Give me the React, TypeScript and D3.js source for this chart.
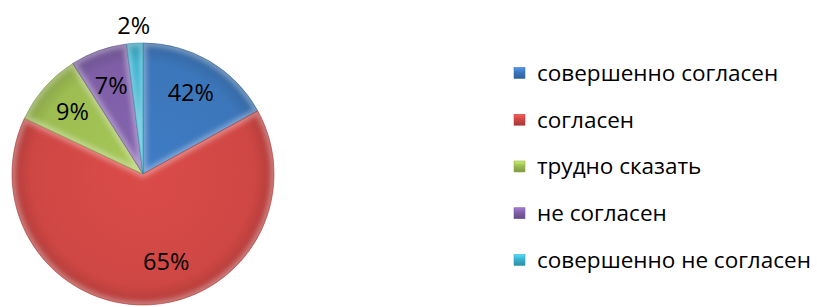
import React from "react";
import * as d3 from "d3";

const categories = ["совершенно согласен", "согласен", "трудно сказать", "не согласен", "совершенно не согласен"];
const sliceShares = [17, 65, 9, 7, 2];
const labelTexts = ["42%", "65%", "9%", "7%", "2%"];
const colors = ["#3C76BA", "#CF4744", "#9DBD52", "#7E5FA6", "#3AB0CE"];

const width = 817;
const height = 307;
const cx = 143;
const cy = 174;
const radius = 131;

const App = () => {
  const pie = d3.pie<number>().sort(null).value((d) => d);
  const arcs = pie(sliceShares);
  const arc = d3.arc<d3.PieArcDatum<number>>().innerRadius(0).outerRadius(radius);

  // label placement: inside at ~0.72R, tiny last slice goes outside
  const labelPos = (a: d3.PieArcDatum<number>, i: number) => {
    let ang = (a.startAngle + a.endAngle) / 2;
    let r = 94;
    if (i === 1) ang -= (13 * Math.PI) / 180;
    if (i === 1) r = 91;
    if (a.endAngle - a.startAngle < 0.2) r = 149;
    return [Math.sin(ang) * r, -Math.cos(ang) * r];
  };

  const legendX = 514;
  const legendY = d3.scalePoint<number>().domain(d3.range(categories.length)).range([73, 260]);

  return (
    <svg
      width={width}
      height={height}
      style={{ position: "absolute", left: 0, top: 0, background: "#fff" }}
      fontFamily="'Open Sans', sans-serif"
    >
      <defs>
        <filter id="soft" x="-20%" y="-20%" width="140%" height="140%">
          <feGaussianBlur stdDeviation="2.5" />
        </filter>
        {colors.map((c, i) => (
          <radialGradient key={i} id={`rg${i}`} gradientUnits="userSpaceOnUse" cx={0} cy={0} r={radius}>
            <stop offset="0%" stopColor={d3.color(c)!.brighter(0.15).formatHex()} />
            <stop offset="85%" stopColor={c} />
            <stop offset="100%" stopColor={d3.color(c)!.darker(0.45).formatHex()} />
          </radialGradient>
        ))}
        {colors.map((c, i) => (
          <linearGradient key={i} id={`lg${i}`} x1="0" y1="0" x2="0" y2="1">
            <stop offset="0%" stopColor={d3.color(c)!.brighter(0.7).formatHex()} />
            <stop offset="45%" stopColor={c} />
            <stop offset="100%" stopColor={d3.color(c)!.darker(0.6).formatHex()} />
          </linearGradient>
        ))}
        {arcs.map((a, i) => (
          <clipPath key={i} id={`clip${i}`}>
            <path d={arc(a) || ""} />
          </clipPath>
        ))}
      </defs>

      <g transform={`translate(${cx},${cy})`}>
        {arcs.map((a, i) => (
          <g key={i}>
            <path d={arc(a) || ""} fill={`url(#rg${i})`} />
            <g clipPath={`url(#clip${i})`}>
              <path
                d={arc(a) || ""}
                fill="none"
                stroke="#fff"
                strokeOpacity={0.35}
                strokeWidth={7}
                filter="url(#soft)"
              />
            </g>
            <path d={arc(a) || ""} fill="none" stroke={d3.color(colors[i])!.darker(0.5).formatHex()} strokeWidth={0.6} />
          </g>
        ))}
        {arcs.map((a, i) => {
          const [x, y] = labelPos(a, i);
          return (
            <text key={i} x={x} y={y} dy="0.35em" textAnchor="middle" fontSize={23.5} fill="#000">
              {labelTexts[i]}
            </text>
          );
        })}
      </g>

      <g>
        {categories.map((name, i) => {
          const y = legendY(i)!;
          return (
            <g key={i}>
              <rect x={legendX} y={y - 5.5} width={11} height={11} fill={`url(#lg${i})`} stroke={d3.color(colors[i])!.darker(0.4).formatHex()} strokeWidth={0.5} />
              <text x={legendX + 23} y={y} dy="0.35em" fontSize={22.5} fill="#000">
                {name}
              </text>
            </g>
          );
        })}
      </g>
    </svg>
  );
};

export default App;
